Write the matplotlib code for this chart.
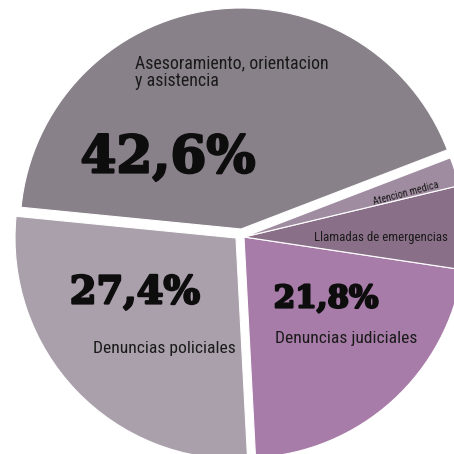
import matplotlib
matplotlib.use("Agg")
import matplotlib.pyplot as plt
from matplotlib import font_manager
import matplotlib.patheffects as pe

# Share of calls by type of service (%)
categories = [
    "Asesoramiento, orientacion\ny asistencia",
    "Denuncias policiales",
    "Denuncias judiciales",
    "Llamadas de emergencias",
    "Atencion medica",
]
shares = [42.6, 27.4, 21.8, 6.1, 2.1]
pct_labels = ["42,6%", "27,4%", "21,8%"]

colors = ["#898189", "#aaa0ab", "#a87ca8", "#8a6f88", "#a08ca0"]

SIZE = 454
fig = plt.figure(figsize=(4.54, 4.54), dpi=100)
ax = fig.add_axes([0, 0, 1, 1])

cx, cy = 240, SIZE - 233
R = 221

wedges, _ = ax.pie(
    shares,
    colors=colors,
    startangle=21,
    counterclock=True,
    center=(cx, cy),
    radius=R,
    wedgeprops=dict(edgecolor="white", linewidth=0.8),
)

# pull slices apart: top slice up, left slice down-left, right group together
offsets = [(1, 4), (-4, -5), (4, -4), (4, -4), (4, -4)]
for w, (dx, dy) in zip(wedges, offsets):
    w.set_center((cx + dx, cy + dy))

ax.set_xlim(0, SIZE)
ax.set_ylim(0, SIZE)
ax.set_aspect("equal")
ax.axis("off")

# pick a narrow sans for the category labels when one is installed
installed = {f.name for f in font_manager.fontManager.ttflist}
narrow = [n for n in ["Roboto Condensed", "Liberation Sans Narrow",
                      "Open Sans Condensed", "Noto Sans Condensed"] if n in installed]
label_family = narrow[:1] + ["DejaVu Sans"]

label_font = dict(family=label_family, color="#1a1a1a")
pct_font = dict(family=["DejaVu Serif"], fontweight="bold", color="#0d0d0d",
                path_effects=[pe.withStroke(linewidth=1.6, foreground="#0d0d0d")])

renderer = fig.canvas.get_renderer()


def Y(y):
    return SIZE - y


def fitted_text(x, y, s, width, max_size, rotation=0, **kw):
    """Place text and shrink its font so the first line spans about `width` px."""
    t = ax.text(x, Y(y), s, fontsize=max_size, **kw)
    probe = ax.text(0, 0, s.split("\n")[0], fontsize=max_size,
                    family=kw.get("family"), fontweight=kw.get("fontweight", "normal"))
    w = probe.get_window_extent(renderer).width
    probe.remove()
    t.set_fontsize(min(max_size, max_size * width / w))
    t.set_rotation(rotation)
    t.set_rotation_mode("anchor")
    return t


# category labels
fitted_text(135, 72, categories[0], 194, 16, ha="left", va="center",
            linespacing=0.95, **label_font)
fitted_text(164, 349, categories[1], 142, 16, ha="center", va="center", **label_font)
fitted_text(346, 338, categories[2], 142, 16, ha="center", va="center", **label_font)
fitted_text(381, 237, categories[3], 132, 12, ha="center", va="center", **label_font)
fitted_text(406, 193, categories[4], 68, 9, rotation=15, ha="center", va="center",
            **label_font)

# percentage labels
fitted_text(168, 158, pct_labels[0], 175, 40, ha="center", va="center", **pct_font)
fitted_text(135, 293, pct_labels[1], 130, 30, ha="center", va="center", **pct_font)
fitted_text(326, 299, pct_labels[2], 105, 25, ha="center", va="center", **pct_font)

fig.savefig("out.png", dpi=100, facecolor="white")
